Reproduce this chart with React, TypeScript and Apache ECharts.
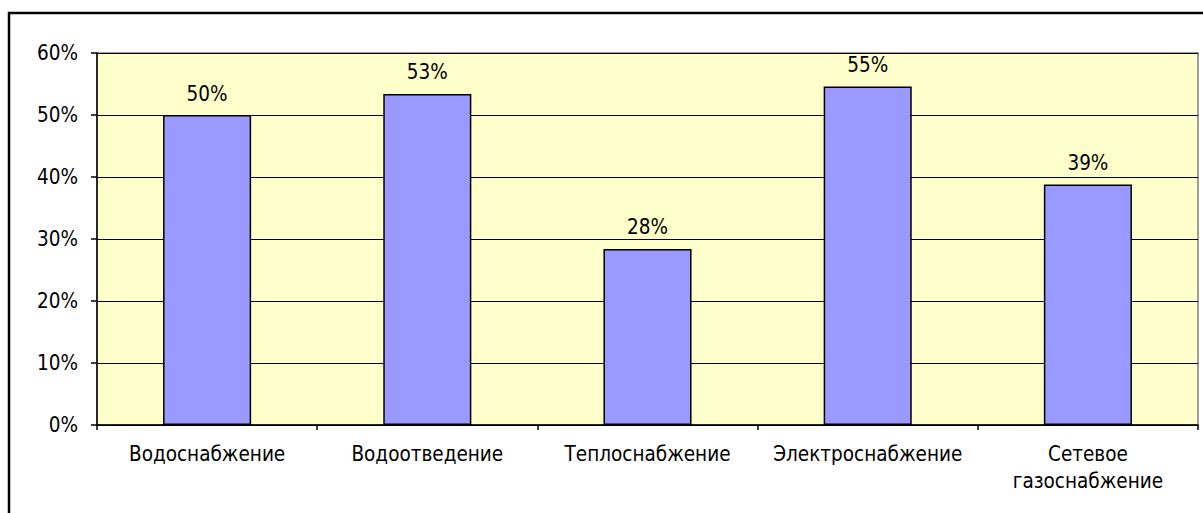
import React, { useEffect, useRef } from "react";
import * as echarts from "echarts";

const categories = ["Водоснабжение", "Водоотведение", "Теплоснабжение", "Электроснабжение", "Сетевое\nгазоснабжение"];
const values = [50.0, 53.4, 28.4, 54.6, 38.8];
const FONT = "Tahoma, 'DejaVu Sans Condensed', 'DejaVu Sans', sans-serif";

export default function App() {
  const ref = useRef<HTMLDivElement>(null);
  useEffect(() => {
    const chart = echarts.init(ref.current!, null, { renderer: "svg" });
    chart.setOption({
      animation: false,
      backgroundColor: "#ffffff",
      textStyle: { fontFamily: FONT },
      graphic: [
        {
          type: "rect",
          shape: { x: 9, y: 13, width: 1210, height: 520 },
          style: { fill: "none", stroke: "#000", lineWidth: 2.5 },
          z: 100,
        },
      ],
      grid: {
        left: 97,
        right: 5,
        top: 53,
        bottom: 88,
        show: true,
        backgroundColor: "#FFFFCC",
        borderColor: "#808080",
        borderWidth: 1.5,
      },
      xAxis: {
        type: "category",
        data: categories,
        axisLine: { lineStyle: { color: "#000", width: 1.5 } },
        axisTick: { show: true, length: 5, lineStyle: { color: "#000", width: 1.5 } },
        axisLabel: { color: "#000", fontSize: 20.5, fontFamily: FONT, margin: 15, lineHeight: 27, interval: 0 },
      },
      yAxis: {
        type: "value",
        min: 0,
        max: 60,
        interval: 10,
        axisLine: { show: true, lineStyle: { color: "#000", width: 1.5 } },
        axisTick: { show: true, length: 6, lineStyle: { color: "#000", width: 1.5 } },
        axisLabel: { color: "#000", fontSize: 20.5, fontFamily: FONT, margin: 19, formatter: "{value}%" },
        splitLine: { show: true, lineStyle: { color: "#000", width: 1 } },
      },
      series: [
        {
          type: "bar",
          data: values,
          barWidth: "40%",
          itemStyle: { color: "#9999FF", borderColor: "#000", borderWidth: 1.5 },
          label: {
            show: true,
            position: "top",
            distance: 11,
            color: "#000",
            fontSize: 20.5,
            fontFamily: FONT,
            formatter: (p: any) => Math.round(p.value) + "%",
          },
        },
      ],
    });
    return () => chart.dispose();
  }, []);
  return <div ref={ref} style={{ position: "fixed", left: 0, top: 0, width: 1203, height: 513 }} />;
}
